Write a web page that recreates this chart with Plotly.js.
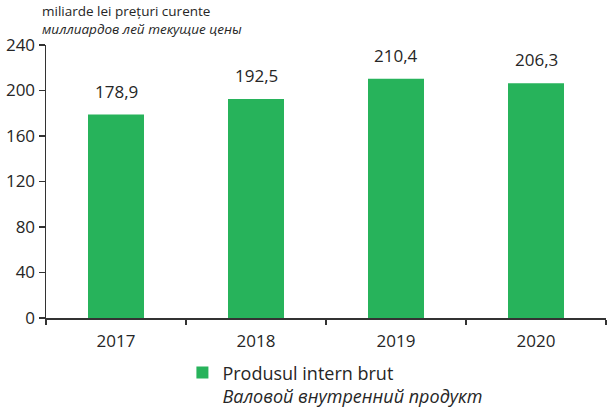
<!DOCTYPE html>
<html>
<head>
<meta charset="utf-8">
<script src="https://cdn.plot.ly/plotly-3.0.1.min.js"></script>
<style>html,body{margin:0;padding:0;background:#fff;}#chart{width:607px;height:408px;}</style>
</head>
<body>
<div id="chart"></div>
<script>
const years = ["2017", "2018", "2019", "2020"];
const gdpValues = [178.9, 192.5, 210.4, 206.3];
const gdpLabels = ["178,9", "192,5", "210,4", "206,3"];
const yTicks = [0, 40, 80, 120, 160, 200, 240];
const seriesName = "Produsul intern brut<br><i>Валовой внутренний продукт</i>";
const unitLine1 = "miliarde lei prețuri curente";
const unitLine2 = "<i>миллиардов лей текущие цены</i>";

const FONT = "Open Sans, Noto Sans, sans-serif";
const TXT = "#262626";
const GREEN = "#27B35B";

const annotations = years.map((y, i) => ({
  x: i, y: gdpValues[i], xref: "x", yref: "y",
  text: gdpLabels[i], showarrow: false,
  yanchor: "bottom", yshift: 10,
  font: {family: FONT, size: 17, color: TXT}
}));
annotations.push({
  xref: "paper", yref: "paper", x: -0.01, y: 1.0, xanchor: "left", yanchor: "bottom",
  yshift: 5, text: unitLine1 + "<br>" + unitLine2, align: "left", showarrow: false,
  font: {family: FONT, size: 13.5, color: TXT}
});

Plotly.newPlot("chart", [{
  type: "bar", x: years, y: gdpValues, name: seriesName,
  marker: {color: GREEN}, showlegend: true, hoverinfo: "none"
}], {
  width: 607, height: 408,
  margin: {l: 46, r: 1, t: 45, b: 90, autoexpand: false},
  paper_bgcolor: "#fff", plot_bgcolor: "#fff",
  bargap: 0.6,
  font: {family: FONT, color: TXT},
  xaxis: {
    type: "category", tickson: "boundaries", ticks: "outside", ticklen: 5,
    tickwidth: 1.5, tickcolor: "#333", showline: true, linecolor: "#333", linewidth: 1.5,
    showgrid: false, tickfont: {family: FONT, size: 17, color: TXT}, fixedrange: true,
    tickangle: 0, ticklabelstandoff: 7, automargin: false
  },
  yaxis: {
    range: [0, 240], tickvals: yTicks, ticks: "outside", ticklen: 6,
    tickwidth: 1.5, tickcolor: "#333", showline: true, linecolor: "#333", linewidth: 1.5,
    showgrid: false, zeroline: false, tickfont: {family: FONT, size: 17, color: TXT},
    fixedrange: true, automargin: false
  },
  showlegend: true,
  legend: {
    orientation: "h", x: 0.2436, y: -0.133, xanchor: "left", yanchor: "top",
    valign: "top", font: {family: FONT, size: 18, color: TXT},
    bgcolor: "rgba(0,0,0,0)"
  },
  annotations: annotations
}, {displayModeBar: false, staticPlot: true});
</script>
</body>
</html>
